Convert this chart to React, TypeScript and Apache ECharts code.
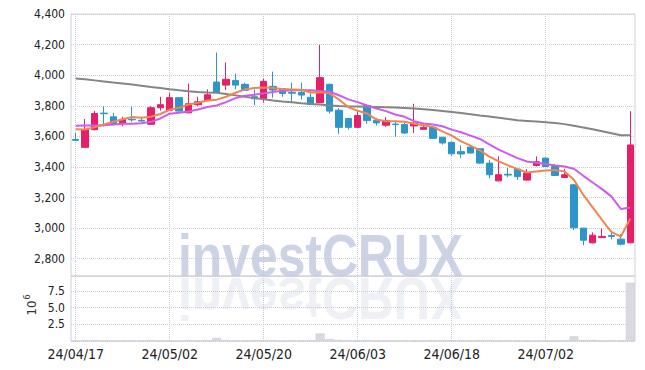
import React, { useEffect, useRef } from 'react';
import * as echarts from 'echarts';

const dates = [
  '24/04/17', '24/04/18', '24/04/19', '24/04/22', '24/04/23', '24/04/24', '24/04/25', '24/04/26', '24/04/29', '24/04/30',
  '24/05/02', '24/05/03', '24/05/07', '24/05/08', '24/05/09', '24/05/10', '24/05/13', '24/05/14', '24/05/16', '24/05/17',
  '24/05/20', '24/05/21', '24/05/22', '24/05/23', '24/05/24', '24/05/27', '24/05/28', '24/05/29', '24/05/30', '24/05/31',
  '24/06/03', '24/06/04', '24/06/05', '24/06/07', '24/06/10', '24/06/11', '24/06/12', '24/06/13', '24/06/14', '24/06/17',
  '24/06/18', '24/06/19', '24/06/20', '24/06/21', '24/06/24', '24/06/25', '24/06/26', '24/06/27', '24/06/28', '24/07/01',
  '24/07/02', '24/07/03', '24/07/04', '24/07/05', '24/07/08', '24/07/09', '24/07/10', '24/07/11', '24/07/12', '24/07/15',
];

const opens = [
  3580, 3528, 3644, 3752, 3728, 3686, 3712, 3705, 3679, 3787,
  3771, 3853, 3754, 3807, 3835, 3955, 3935, 3966, 3940, 3859,
  3846, 3927, 3912, 3888, 3887, 3855, 3820, 3940, 3771, 3717,
  3659, 3802, 3705, 3673, 3680, 3677, 3668, 3646, 3659, 3594,
  3561, 3500, 3530, 3519, 3425, 3309, 3352, 3386, 3314, 3410,
  3458, 3403, 3331, 3283, 3000, 2904, 2938, 2952, 2928, 2904,
];
const closes = [
  3574, 3644, 3749, 3748, 3684, 3710, 3708, 3700, 3787, 3807,
  3853, 3765, 3813, 3826, 3872, 3889, 3973, 3935, 3901, 3846,
  3960, 3903, 3881, 3882, 3870, 3808, 3984, 3765, 3659, 3659,
  3736, 3703, 3688, 3703, 3677, 3622, 3686, 3659, 3587, 3557,
  3486, 3485, 3491, 3425, 3349, 3349, 3347, 3337, 3360, 3434,
  3403, 3344, 3349, 3002, 2921, 2954, 2946, 2946, 2895, 3544,
];
const lows = [
  3570, 3525, 3640, 3665, 3671, 3666, 3695, 3695, 3675, 3769,
  3770, 3763, 3750, 3797, 3830, 3887, 3903, 3907, 3899, 3804,
  3820, 3853, 3859, 3820, 3841, 3804, 3818, 3749, 3616, 3644,
  3655, 3682, 3671, 3662, 3596, 3618, 3622, 3646, 3585, 3546,
  3473, 3458, 3488, 3420, 3327, 3305, 3333, 3316, 3312, 3403,
  3400, 3342, 3329, 2987, 2888, 2900, 2935, 2926, 2888, 2900,
];
const highs = [
  3622, 3714, 3767, 3797, 3754, 3728, 3793, 3728, 3797, 3859,
  3885, 3857, 3945, 3859, 3907, 4148, 4083, 4010, 3951, 3907,
  3977, 4023, 3915, 3951, 3951, 3902, 4198, 3945, 3784, 3720,
  3769, 3808, 3721, 3725, 3699, 3688, 3813, 3688, 3662, 3596,
  3565, 3541, 3539, 3520, 3447, 3469, 3393, 3388, 3386, 3469,
  3460, 3419, 3388, 3290, 3002, 2972, 2998, 2972, 2961, 3765,
];

const maShort = [
  3646, 3645, 3660, 3677, 3695, 3712, 3726, 3722, 3728, 3746,
  3774, 3787, 3808, 3820, 3835, 3840, 3859, 3885, 3907, 3916,
  3920, 3916, 3909, 3907, 3905, 3887, 3889, 3881, 3841, 3792,
  3767, 3749, 3710, 3699, 3699, 3695, 3682, 3673, 3662, 3633,
  3605, 3567, 3539, 3508, 3467, 3436, 3410, 3386, 3364, 3371,
  3377, 3380, 3371, 3316, 3217, 3136, 3053, 2974, 2945, 3062,
];
const maMid = [
  3670, 3671, 3671, 3673, 3677, 3682, 3683, 3686, 3695, 3717,
  3748, 3754, 3763, 3776, 3792, 3802, 3824, 3850, 3866, 3872,
  3881, 3890, 3899, 3902, 3902, 3902, 3896, 3892, 3869, 3842,
  3824, 3802, 3782, 3765, 3743, 3728, 3699, 3684, 3677, 3666,
  3644, 3627, 3605, 3583, 3547, 3513, 3485, 3458, 3436, 3427,
  3419, 3410, 3403, 3388, 3342, 3298, 3255, 3206, 3125, 3135,
];
const maLong = [
  3979, 3973, 3966, 3959, 3952, 3946, 3939, 3931, 3923, 3916,
  3908, 3901, 3895, 3890, 3887, 3885, 3877, 3868, 3859, 3850,
  3842, 3834, 3828, 3823, 3817, 3812, 3808, 3802, 3798, 3796,
  3795, 3794, 3792, 3790, 3788, 3785, 3782, 3778, 3772, 3766,
  3760, 3753, 3745, 3737, 3730, 3722, 3713, 3705, 3701, 3697,
  3693, 3688, 3680, 3670, 3658, 3646, 3633, 3620, 3607, 3607,
];

// volume in millions (10^6)
const volumes = [
  0.05, 0.12, 0.12, 0.05, 0.05, 0.05, 0.05, 0.05, 0.12, 0.05,
  0.05, 0.05, 0.12, 0.05, 0.12, 0.45, 0.12, 0.05, 0.05, 0.12,
  0.12, 0.12, 0.05, 0.05, 0.05, 0.12, 1.13, 0.3, 0.15, 0.05,
  0.05, 0.12, 0.05, 0.05, 0.05, 0.05, 0.05, 0.05, 0.12, 0.12,
  0.12, 0.12, 0.05, 0.12, 0.12, 0.05, 0.05, 0.05, 0.05, 0.05,
  0.05, 0.05, 0.05, 0.7, 0.15, 0.15, 0.05, 0.05, 0.05, 8.73,
];

const FONT = '"Liberation Sans Narrow", "DejaVu Sans Condensed", "Roboto", sans-serif';

export default function App() {
  const ref = useRef<HTMLDivElement>(null);
  useEffect(() => {
    const chart = echarts.init(ref.current!, null, { renderer: 'svg' });
    const candles = dates.map((_, i) => [opens[i], closes[i], lows[i], highs[i]]);
    const vSplit = { show: true, interval: 9, alignWithLabel: true, lineStyle: { color: '#c3cadc', type: 'dotted', width: 1 } };
    const hSplit = { show: true, lineStyle: { color: '#cbcbd3', type: 'dotted', width: 1 } };
    chart.setOption({
      animation: false,
      backgroundColor: '#ffffff',
      grid: [
        { left: 71, right: 10, top: 14, height: 262, show: true, borderColor: '#d2d2da', borderWidth: 1 },
        { left: 71, right: 10, top: 276, height: 65, show: true, borderColor: '#d2d2da', borderWidth: 1 },
      ],
      xAxis: [
        {
          type: 'category', gridIndex: 0, data: dates, boundaryGap: true,
          axisLabel: { show: false }, axisTick: { show: false }, axisLine: { show: false },
          splitLine: vSplit,
        },
        {
          type: 'category', gridIndex: 1, data: dates, boundaryGap: true,
          axisLabel: { show: true, interval: 9, fontSize: 14, color: '#222', fontFamily: FONT, margin: 6 },
          axisTick: { show: false }, axisLine: { show: false },
          splitLine: vSplit,
        },
      ],
      yAxis: [
        {
          type: 'value', gridIndex: 0, min: 2687, max: 4400, splitNumber: 8,
          axisLine: { show: false }, axisTick: { show: false },
          axisLabel: {
            fontSize: 12, color: '#222', fontFamily: FONT, margin: 6,
            formatter: (v: number) => (Math.round(v) % 200 === 0 ? Math.round(v).toLocaleString('en-US') : ''),
          },
          splitLine: hSplit,
        },
        {
          type: 'value', gridIndex: 1, min: 0, max: 9.73, interval: 2.5,
          axisLine: { show: false }, axisTick: { show: false },
          axisLabel: {
            fontSize: 12, color: '#222', fontFamily: FONT, margin: 6,
            formatter: (v: number) => (v > 0 && v < 9 ? v.toFixed(1) : ''),
          },
          splitLine: hSplit,
        },
      ],
      graphic: [
        {
          type: 'text', x: 178, y: 255, scaleX: 0.83, z: 0, silent: true,
          style: { text: 'investCRUX', font: 'bold 60px "Liberation Sans", Arial, sans-serif', fill: '#c3cbe1', opacity: 0.85, textAlign: 'left', textVerticalAlign: 'middle' },
        },
        {
          type: 'text', x: 178, y: 277, scaleX: 0.83, scaleY: -1, z: 0, silent: true,
          style: { text: 'investCRUX', y: -22, font: 'bold 60px "Liberation Sans", Arial, sans-serif', fill: '#c3cbe1', opacity: 0.3, textAlign: 'left', textVerticalAlign: 'middle' },
        },
        {
          type: 'text', x: 31, y: 308, rotation: Math.PI / 2, silent: true,
          style: { text: '10', font: '13px ' + FONT, fill: '#333', textAlign: 'center', textVerticalAlign: 'middle' },
        },
        {
          type: 'text', x: 27, y: 297, rotation: Math.PI / 2, silent: true,
          style: { text: '6', font: '9px ' + FONT, fill: '#333', textAlign: 'center', textVerticalAlign: 'middle' },
        },
      ],
      series: [
        {
          type: 'candlestick', xAxisIndex: 0, yAxisIndex: 0, data: candles, barWidth: '72%', z: 3,
          itemStyle: { color: '#e61f69', color0: '#2d95c9', borderColor: '#e61f69', borderColor0: '#2d95c9', borderWidth: 1 },
        },
        {
          type: 'line', xAxisIndex: 0, yAxisIndex: 0, data: maLong, symbol: 'none', z: 4,
          lineStyle: { color: '#858585', width: 2 },
        },
        {
          type: 'line', xAxisIndex: 0, yAxisIndex: 0, data: maMid, symbol: 'none', z: 4,
          lineStyle: { color: '#cc5bee', width: 2 },
        },
        {
          type: 'line', xAxisIndex: 0, yAxisIndex: 0, data: maShort, symbol: 'none', z: 4,
          lineStyle: { color: '#ee8650', width: 2 },
        },
        {
          type: 'bar', xAxisIndex: 1, yAxisIndex: 1, data: volumes, barCategoryGap: '6%',
          itemStyle: { color: '#d9d9e1', borderColor: '#c8c8d2', borderWidth: 0.5 },
        },
      ],
    });
    return () => chart.dispose();
  }, []);
  return <div ref={ref} style={{ position: 'absolute', left: 0, top: 0, width: 645, height: 370 }} />;
}
